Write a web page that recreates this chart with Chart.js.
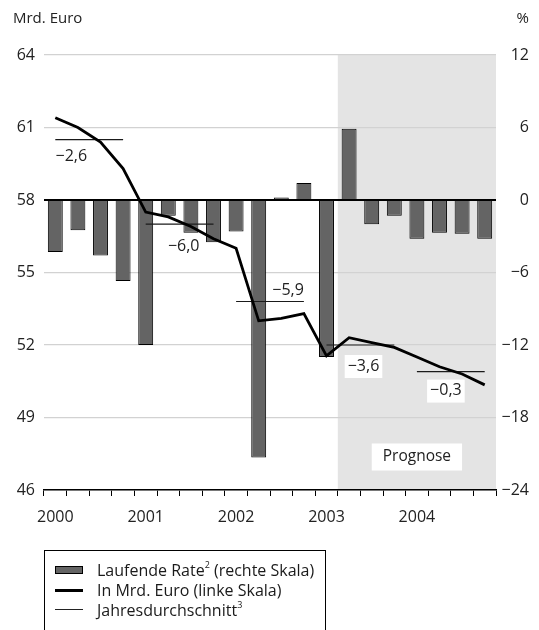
<!DOCTYPE html>
<html>
<head>
<meta charset="utf-8">
<script src="https://cdn.jsdelivr.net/npm/chart.js@4.4.1/dist/chart.umd.min.js"></script>
<style>
  html, body { margin: 0; padding: 0; background: #fff; overflow: hidden; }
  #wrap { position: relative; width: 539px; height: 630px; }
  #chart { position: absolute; left: 0; top: 0; }
  #legend {
    position: absolute; left: 44px; top: 550px; width: 282px; height: 100px;
    border: 1px solid #000; box-sizing: border-box;
    font: 16px 'Open Sans', sans-serif; color: #1a1a1a;
  }
  .row { position: absolute; left: 0; height: 20px; line-height: 20px; width: 100%; }
  .sw { position: absolute; left: 10px; width: 28px; }
  .tx { position: absolute; left: 52px; white-space: nowrap; }
  .tx sup { font-size: 9px; vertical-align: top; position: relative; top: -5px; }
</style>
</head>
<body>
<div id="wrap">
  <canvas id="chart" width="539" height="630"></canvas>
  <div id="legend">
    <div class="row" style="top:9px">
      <div class="sw" style="top:6px;height:8px;background:#646464;border:1px solid #000;box-sizing:border-box"></div>
      <div class="tx">Laufende Rate<sup>2</sup> (rechte Skala)</div>
    </div>
    <div class="row" style="top:29px">
      <div class="sw" style="top:9px;height:3px;background:#000"></div>
      <div class="tx">In Mrd. Euro (linke Skala)</div>
    </div>
    <div class="row" style="top:49px">
      <div class="sw" style="top:9px;height:1px;background:#222"></div>
      <div class="tx">Jahresdurchschnitt<sup>3</sup></div>
    </div>
  </div>
</div>

<script>
// Jahre, Quartale
const years = ['2000', '2001', '2002', '2003', '2004'];
const quarters = years.flatMap(y => [y + ' Q1', y + ' Q2', y + ' Q3', y + ' Q4']);

// laufende Rate in % (rechte Skala)
const rate = [-4.3, -2.5, -4.6, -6.7, -12.0, -1.3, -2.7, -3.5, -2.6, -21.3,
  0.2, 1.4, -13.0, 5.9, -2.0, -1.3, -3.2, -2.7, -2.8, -3.2];

// in Mrd. Euro (linke Skala)
const level = [61.4, 61.0, 60.4, 59.3, 57.5, 57.3, 56.9, 56.4, 56.0, 53.0,
  53.1, 53.3, 51.55, 52.3, 52.1, 51.9, 51.5, 51.1, 50.8, 50.35];

// Jahresdurchschnitt (Niveau) und Veränderung ggü. Vorjahr
const avgLevel = [60.5, 57.0, 53.8, 52.0, 50.9];
const avgChange = ['−2,6', '−6,0', '−5,9', '−3,6', '−0,3'];

// ab diesem Quartal Prognose
const forecastStart = 13;

const leftTicks = {min: 46, max: 64, step: 3};
const rightTicks = {min: -24, max: 12, step: 6};

// label offsets relativ zum Beginn der Durchschnittslinie [dx, dy, weisser Kasten]
const avgLabelStyle = [[16, 17, false], [38, 22, false], [52, -11, false], [37, 21, true], [29, 19, true]];

const FONT = "'Open Sans', sans-serif";
Chart.defaults.font.family = FONT;
Chart.defaults.color = '#222';

const avgDatasets = avgLevel.map((v, yi) => ({
  type: 'line',
  label: 'Jahresdurchschnitt ' + years[yi],
  data: quarters.map((_, i) => Math.floor(i / 4) === yi ? v : null),
  yAxisID: 'y',
  borderColor: '#1a1a1a',
  borderWidth: 1.2,
  pointRadius: 0,
  spanGaps: false,
  order: 1
}));

const bgPlugin = {
  id: 'forecastBg',
  beforeDraw(chart) {
    const {ctx, chartArea: {top, bottom, right}, scales: {x}} = chart;
    const x0 = (x.getPixelForValue(forecastStart - 1) + x.getPixelForValue(forecastStart)) / 2;
    ctx.save();
    ctx.fillStyle = '#e4e4e4';
    ctx.fillRect(x0, top, right - x0, bottom - top);
    ctx.restore();
  }
};

const textPlugin = {
  id: 'texts',
  afterDatasetsDraw(chart) {
    const {ctx, chartArea: {bottom, right}, scales: {x, y}} = chart;
    ctx.save();
    ctx.font = '16px ' + FONT;
    ctx.textAlign = 'center';
    ctx.textBaseline = 'middle';
    avgChange.forEach((t, yi) => {
      const st = avgLabelStyle[yi];
      const cx = x.getPixelForValue(yi * 4) + st[0];
      const cy = y.getPixelForValue(avgLevel[yi]) + st[1];
      if (st[2]) {
        const w = ctx.measureText(t).width + 6;
        ctx.fillStyle = '#fff';
        ctx.fillRect(cx - w / 2, cy - 11, w, 23);
      }
      ctx.fillStyle = '#222';
      ctx.fillText(t, cx, cy);
    });

    // Prognose
    const x0 = (x.getPixelForValue(forecastStart - 1) + x.getPixelForValue(forecastStart)) / 2;
    const px = (x0 + right) / 2, py = bottom - 33;
    ctx.font = '15.5px ' + FONT;
    const pw = ctx.measureText('Prognose').width + 22;
    ctx.fillStyle = '#fff';
    ctx.fillRect(px - pw / 2, py - 13.5, pw, 27);
    ctx.fillStyle = '#222';
    ctx.fillText('Prognose', px, py);

    // Einheiten
    ctx.font = '15px ' + FONT;
    ctx.textAlign = 'left';
    ctx.fillText('Mrd. Euro', 13, 19);
    ctx.textAlign = 'right';
    ctx.fillText('%', 529, 19);
    ctx.restore();
  }
};

new Chart(document.getElementById('chart'), {
  data: {
    labels: quarters,
    datasets: [
      {
        type: 'line',
        label: 'In Mrd. Euro (linke Skala)',
        data: level,
        yAxisID: 'y',
        borderColor: '#000',
        borderWidth: 2.8,
        pointRadius: 0,
        tension: 0,
        order: 0
      },
      ...avgDatasets,
      {
        type: 'bar',
        label: 'Laufende Rate (rechte Skala)',
        data: rate,
        yAxisID: 'y1',
        backgroundColor: '#646464',
        borderColor: '#000',
        borderWidth: 1,
        borderSkipped: false,
        categoryPercentage: 1,
        barPercentage: 0.66,
        order: 2
      }
    ]
  },
  options: {
    responsive: false,
    animation: false,
    layout: {padding: {top: 55, right: 10, left: 0, bottom: 0}},
    plugins: {
      legend: {display: false},
      title: {display: false},
      tooltip: {enabled: false}
    },
    scales: {
      x: {
        type: 'category',
        offset: true,
        afterFit: s => { s.height = 140; },
        grid: {
          offset: true,
          drawOnChartArea: false,
          drawTicks: true,
          tickLength: 6,
          color: '#000',
          lineWidth: 1
        },
        border: {display: true, color: '#000', width: 1.5},
        ticks: {
          autoSkip: false,
          maxRotation: 0,
          padding: 12,
          font: {size: 16},
          color: '#222',
          callback: (v, i) => i % 4 === 0 ? years[i / 4] : ''
        }
      },
      y: {
        position: 'left',
        min: leftTicks.min,
        max: leftTicks.max,
        afterFit: s => { s.width = 44; },
        border: {display: false},
        grid: {
          drawTicks: false,
          color: c => c.tick && c.tick.value === 58 ? '#000' : '#d2d2d2',
          lineWidth: c => c.tick && c.tick.value === 58 ? 2 : 1.2
        },
        ticks: {stepSize: leftTicks.step, padding: 9, font: {size: 16}, color: '#222'}
      },
      y1: {
        position: 'right',
        min: rightTicks.min,
        max: rightTicks.max,
        afterFit: s => { s.width = 33; },
        border: {display: false},
        grid: {display: false, drawTicks: false},
        ticks: {
          stepSize: rightTicks.step,
          crossAlign: 'far',
          font: {size: 16},
          color: '#222',
          callback: v => v < 0 ? '−' + Math.abs(v) : String(v)
        }
      }
    }
  },
  plugins: [bgPlugin, textPlugin]
});
</script>
</body>
</html>
